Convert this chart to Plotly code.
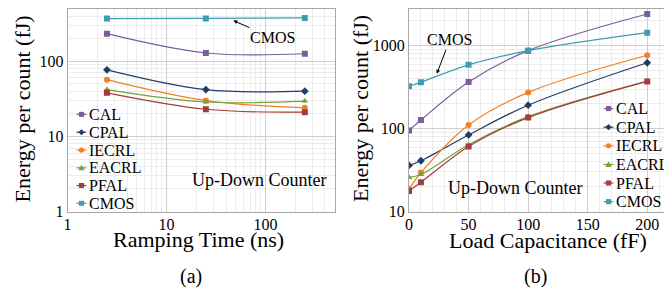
import plotly.graph_objects as go

series = ["CAL", "CPAL", "IECRL", "EACRL", "PFAL", "CMOS"]
colors = ["#7b5c9c", "#1f3d66", "#f08122", "#76a03c", "#a33d3d", "#3d9db3"]
symbols = ["square", "diamond", "circle", "triangle-up", "square", "square"]

ramp_time = [2.5, 25, 250]
ramp_CAL = [233, 129, 126]
ramp_CPAL = [77, 42, 40]
ramp_IECRL = [57, 30, 24]
ramp_EACRL = [42, 28.7, 29.5]
ramp_PFAL = [38, 23, 21]
ramp_CMOS = [370, 372, 378]

load_cap = [0, 10, 50, 100, 200]
load_CAL = [95, 127, 366, 875, 2420]
load_CPAL = [36, 41, 84, 192, 625]
load_IECRL = [18.8, 29.5, 111, 274, 770]
load_EACRL = [25.8, 28, 64, 140, 376]
load_PFAL = [17.7, 22.5, 61, 136, 372]
load_CMOS = [325, 364, 590, 875, 1440]

ramp_vals = [ramp_CAL, ramp_CPAL, ramp_IECRL, ramp_EACRL, ramp_PFAL, ramp_CMOS]
load_vals = [load_CAL, load_CPAL, load_IECRL, load_EACRL, load_PFAL, load_CMOS]

W, H = 672, 300
OFF = 8  # page body margin
FONT = "Liberation Serif, Times New Roman, serif"

fig = go.Figure()
for name, c, s, v in zip(series, colors, symbols, ramp_vals):
    fig.add_trace(go.Scatter(x=ramp_time, y=v, name=name, mode="lines+markers",
                             line=dict(color=c, width=1.2, shape="spline"),
                             marker=dict(color=c, symbol=s, size=6),
                             xaxis="x", yaxis="y", showlegend=False))
for name, c, s, v in zip(series, colors, symbols, load_vals):
    fig.add_trace(go.Scatter(x=load_cap, y=v, name=name, mode="lines+markers",
                             line=dict(color=c, width=1.2, shape="spline"),
                             marker=dict(color=c, symbol=s, size=6),
                             xaxis="x2", yaxis="y2", showlegend=False))

grid = "#cfcfcf"
mgrid = "#ececec"
frame = "#a8a8a8"
tickfont = dict(family=FONT, size=16, color="black")

def px(x):
    return (x - OFF) / W

def py(y):
    return (H - (y - OFF)) / H

common = dict(showline=True, mirror=True, linecolor=frame, linewidth=1,
              gridcolor=grid, gridwidth=1, tickfont=tickfont, ticks="",
              zeroline=False)

top_px = OFF
y1_top_val = (217.5 - top_px) / 77.7
y2_top_val = 1 + (217.5 - top_px) / 85.7
x2_right_val = (W + OFF - 408) / 1.2

fig.update_layout(
    width=W, height=H,
    margin=dict(l=0, r=0, t=0, b=0),
    paper_bgcolor="white", plot_bgcolor="white",
    font=dict(family=FONT, color="black"),
    showlegend=False,
    xaxis=dict(type="log", domain=[px(64), px(333)], range=[0, 2.699],
               dtick=1, anchor="y", ticklabelstandoff=-2,
               minor=dict(dtick="D1", showgrid=True, gridcolor=mgrid), **common),
    yaxis=dict(type="log", domain=[py(217.5), 1.0], range=[0, y1_top_val],
               dtick=1, anchor="x",
               minor=dict(dtick="D1", showgrid=True, gridcolor=mgrid), **common),
    xaxis2=dict(domain=[px(408), 1.0], range=[0, x2_right_val], dtick=50, anchor="y2",
                ticklabelstandoff=-2,
                minor=dict(dtick=10, showgrid=True, gridcolor=mgrid), **common),
    yaxis2=dict(type="log", domain=[py(217.5), 1.0], range=[1, y2_top_val],
                dtick=1, anchor="x2",
                minor=dict(dtick="D1", showgrid=True, gridcolor=mgrid), **common),
)

ann = []
shapes = []

def text(x, y, t, size, angle=0, xanchor="center"):
    ann.append(dict(x=px(x), y=py(y), xref="paper", yref="paper", text=t,
                    showarrow=False, textangle=angle,
                    font=dict(family=FONT, size=size, color="black"),
                    xanchor=xanchor, yanchor="middle"))

def legend_item(x0, y, color, symbol, label):
    shapes.append(dict(type="line", xref="paper", yref="paper",
                       x0=px(x0), x1=px(x0 + 10), y0=py(y), y1=py(y),
                       line=dict(color=color, width=1.2)))
    cx, r = x0 + 5, 2.6
    if symbol == "square":
        shapes.append(dict(type="rect", xref="paper", yref="paper",
                           x0=px(cx - r), x1=px(cx + r), y0=py(y + r), y1=py(y - r),
                           fillcolor=color, line=dict(width=0)))
    elif symbol == "circle":
        shapes.append(dict(type="circle", xref="paper", yref="paper",
                           x0=px(cx - r), x1=px(cx + r), y0=py(y + r), y1=py(y - r),
                           fillcolor=color, line=dict(width=0)))
    elif symbol == "diamond":
        d = r + 0.6
        path = "M {} {} L {} {} L {} {} L {} {} Z".format(
            px(cx), py(y - d), px(cx + d), py(y), px(cx), py(y + d), px(cx - d), py(y))
        shapes.append(dict(type="path", xref="paper", yref="paper", path=path,
                           fillcolor=color, line=dict(width=0)))
    else:
        d = r + 0.6
        path = "M {} {} L {} {} L {} {} Z".format(
            px(cx), py(y - d), px(cx + d), py(y + d * 0.8), px(cx - d), py(y + d * 0.8))
        shapes.append(dict(type="path", xref="paper", yref="paper", path=path,
                           fillcolor=color, line=dict(width=0)))
    text(x0 + 11, y, label, 16, xanchor="left")

left_leg_y = [117, 135.5, 154, 172.3, 190.6, 209]
right_leg_y = [111, 130.2, 149.5, 168.8, 188, 207.3]
for i in range(len(series)):
    legend_item(73, left_leg_y[i], colors[i], symbols[i], series[i])
    legend_item(604, right_leg_y[i], colors[i], symbols[i], series[i])

text(196, 246.5, "Ramping Time (ns)", 22)
text(548, 247.5, "Load Capacitance (fF)", 22)
text(19, 111, "Energy per count (fJ)", 22, -90)
text(359, 111, "Energy per count (fJ)", 22, -90)
text(256.5, 185, "Up-Down Counter", 18)
text(514.5, 193, "Up-Down Counter", 18)
text(188, 285, "(a)", 20)
text(535, 285, "(b)", 20)

ann.append(dict(x=px(231), y=py(20), xref="paper", yref="paper", text="CMOS",
                showarrow=True, ax=39, ay=17, arrowhead=2, arrowsize=0.8,
                arrowwidth=1, arrowcolor="black",
                font=dict(family=FONT, size=16, color="black")))
ann.append(dict(x=px(436), y=py(75), xref="paper", yref="paper", text="CMOS",
                showarrow=True, ax=13, ay=-34, arrowhead=2, arrowsize=0.8,
                arrowwidth=1, arrowcolor="black",
                font=dict(family=FONT, size=16, color="black")))
fig.update_layout(annotations=ann, shapes=shapes)

fig.write_html("out.html")
